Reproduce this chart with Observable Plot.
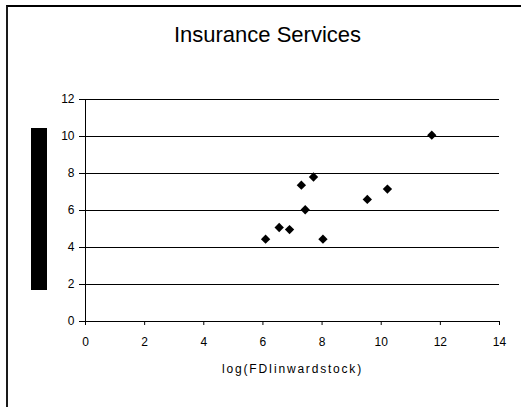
<!DOCTYPE html>
<html>
<head>
<meta charset="utf-8">
<script src="https://cdn.jsdelivr.net/npm/d3@7"></script>
<script src="https://cdn.jsdelivr.net/npm/@observablehq/plot@0.6"></script>
<style>
  html, body { margin: 0; padding: 0; background: #fff; overflow: hidden; width: 521px; height: 407px; }
  #wrap { position: relative; width: 521px; height: 407px; overflow: hidden; font-family: "Liberation Sans", Arial, sans-serif; }
  #border { position: absolute; left: 6px; top: 5px; width: 540px; height: 430px; border-left: 2px solid #1a1a1a; border-top: 2px solid #000; box-sizing: border-box; }
  #redact { position: absolute; left: 31px; top: 128px; width: 16px; height: 162px; background: #000; }
  #chart { position: absolute; left: 0; top: 0; }
</style>
</head>
<body>
<div id="wrap">
  <div id="chart"></div>
  <div id="border"></div>
  <div id="redact"></div>
</div>
<script>
const title = "Insurance Services";
const xLabel = "log(FDIinwardstock)";
const xTicks = [0, 2, 4, 6, 8, 10, 12, 14];
const yTicks = [0, 2, 4, 6, 8, 10, 12];
const fdiLog = [6.09, 6.55, 6.90, 7.30, 7.43, 7.71, 8.03, 9.53, 10.21, 11.71];
const insurance = [4.45, 5.08, 4.97, 7.37, 6.04, 7.81, 4.45, 6.60, 7.16, 10.07];

const points = fdiLog.map((x, i) => ({x, y: insurance[i]}));

const chart = Plot.plot({
  width: 521,
  height: 407,
  marginLeft: 85,
  marginRight: 22,
  marginTop: 99,
  marginBottom: 86,
  style: {fontFamily: "'Liberation Sans', Arial, sans-serif", background: "transparent", color: "#000"},
  x: {domain: [0, 14]},
  y: {domain: [0, 12]},
  marks: [
    Plot.ruleY(yTicks.filter(d => d > 0), {stroke: "#000", strokeWidth: 1}),
    Plot.axisY({ticks: yTicks, tickSize: 6, tickPadding: 5, fontSize: 12, label: null, stroke: "#000", fill: "#000"}),
    Plot.axisX({ticks: xTicks, tickSize: 4, tickPadding: 12, fontSize: 12, label: null, stroke: "#000", fill: "#000"}),
    Plot.ruleX([0], {stroke: "#000"}),
    Plot.ruleY([0], {stroke: "#000"}),
    Plot.dot(points, {x: "x", y: "y", symbol: "diamond2", r: 4.2, fill: "#000", stroke: null}),
    Plot.text([title], {frameAnchor: "top", dx: -25, dy: -58, lineAnchor: "bottom", fontSize: 22, fill: "#000"}),
    Plot.text([xLabel], {frameAnchor: "bottom", dy: 51, lineAnchor: "bottom", fontSize: 12, fill: "#000", className: "xlab"})
  ]
});
d3.select(chart).selectAll(".xlab text").style("letter-spacing", "1.8px");
document.getElementById("chart").appendChild(chart);
</script>
</body>
</html>
